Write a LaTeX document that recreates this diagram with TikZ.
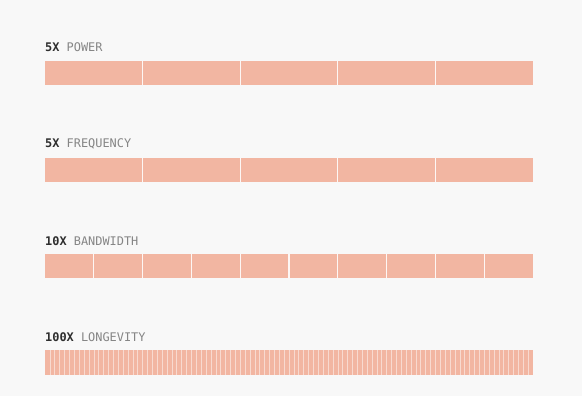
\documentclass[tikz,border=0pt]{standalone}
\usepackage{fontspec}
\setmonofont{DejaVu Sans Mono}
\definecolor{bg}{HTML}{F8F8F8}
\definecolor{barc}{HTML}{F2B6A2}
\definecolor{dark}{HTML}{2E2E2E}
\definecolor{gr}{HTML}{858585}
\begin{document}
\begin{tikzpicture}[x=1pt,y=-1pt,
  lbl/.style={anchor=base west,inner sep=0pt,font=\ttfamily\fontsize{11.9}{12}\selectfont},
  barbox/.style={fill=barc,draw=none},
  sep/.style={draw=white,line width=1.2pt,opacity=0.9},
  thinsep/.style={draw=white,line width=0.6pt,opacity=0.5}]
\fill[bg] (0,0) rectangle (582,396);
\useasboundingbox (0,0) rectangle (582,396);
% labels
\node[lbl] (l1) at (45,52) {\textcolor{dark}{\bfseries 5X} \textcolor{gr}{POWER}};
\node[lbl] (l2) at (45,148) {\textcolor{dark}{\bfseries 5X} \textcolor{gr}{FREQUENCY}};
\node[lbl] (l3) at (45,245) {\textcolor{dark}{\bfseries 10X} \textcolor{gr}{BANDWIDTH}};
\node[lbl] (l4) at (45,341) {\textcolor{dark}{\bfseries 100X} \textcolor{gr}{LONGEVITY}};
% bars
\path[barbox] (45,61) rectangle (533,85);
\path[barbox] (45,158) rectangle (533,182);
\path[barbox] (45,254) rectangle (533,278);
\path[barbox] (45,350) rectangle (533,375);
\foreach \i in {1,...,4} {
  \draw[sep] ({45+\i*97.6},61) -- ({45+\i*97.6},85);
  \draw[sep] ({45+\i*97.6},158) -- ({45+\i*97.6},182);
}
\foreach \i in {1,...,9} {
  \draw[sep] ({45+\i*48.8},254) -- ({45+\i*48.8},278);
}
\foreach \i in {1,...,99} {
  \draw[thinsep] ({45+\i*4.88},350) -- ({45+\i*4.88},375);
}
\end{tikzpicture}
\end{document}
